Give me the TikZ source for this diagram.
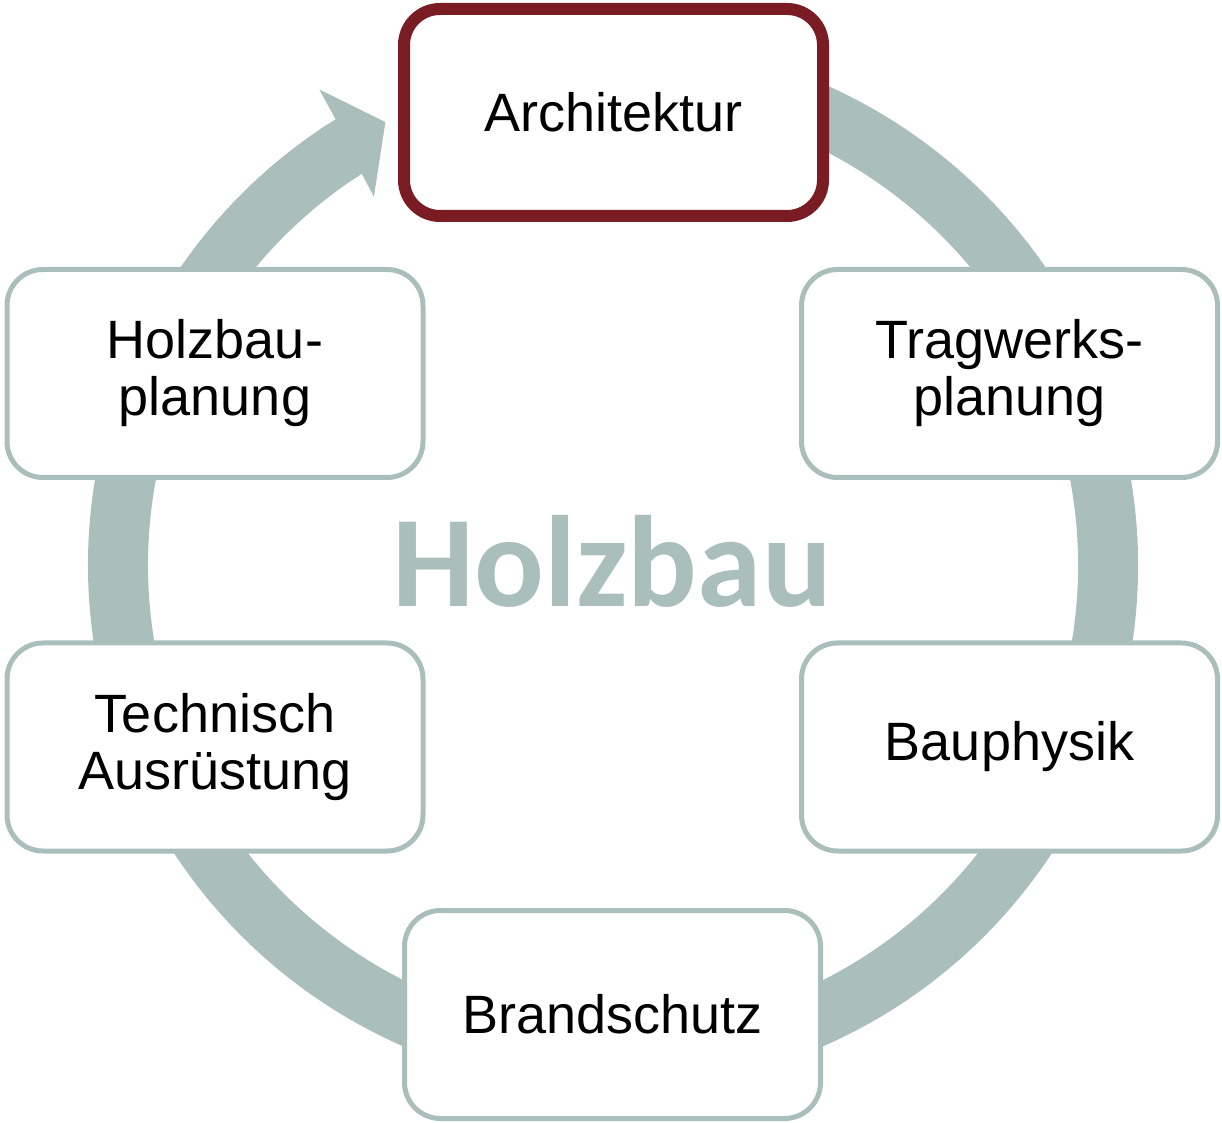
\documentclass[tikz,border=0pt]{standalone}
\usepackage{fontspec}
\setmainfont{Liberation Sans}
\newfontfamily\hubfont{Carlito}
\definecolor{ringgray}{HTML}{AABFBC}
\definecolor{archred}{HTML}{7A1C24}
\tikzset{
  topicbox/.style={draw=ringgray, line width=5pt, fill=white, rounded corners=36pt,
    minimum width=416pt, minimum height=208pt, align=center, inner sep=0pt,
    font=\fontsize{54}{57}\selectfont},
  leadbox/.style={topicbox, draw=archred, line width=12pt,
    minimum width=419pt, minimum height=207pt},
  cycle/.style={draw=ringgray, line width=60pt, line cap=butt},
}
\begin{document}
\begin{tikzpicture}[x=1pt, y=1pt]
  \useasboundingbox (0,0) rectangle (1222,1122);
  \coordinate (hub) at (613,557);

  % circular process ring ending in an arrowhead
  \begin{scope}[shift={(hub)}]
    \draw[cycle] (100:495) arc[start angle=100, end angle=-237, radius=495pt];
    \fill[ringgray] (124:525) -- (121.9:525) -- (121.7:559) -- (117.2:498)
      -- (123.0:439) -- (122.7:465) -- (124:465) -- cycle;
  \end{scope}

  % centre label
  \node[anchor=base, text=ringgray, inner sep=0pt,
        font=\hubfont\bfseries\fontsize{130}{130}\selectfont] (title) at (612,515) {Holzbau};

  % topic boxes
  \node[leadbox]  (arch)  at (613.5,1009.5) {Architektur};
  \node[topicbox] (trag)  at (1009.5,748.5) {Tragwerks-\\planung};
  \node[topicbox] (hplan) at (215,748.5)    {Holzbau-\\planung};
  \node[topicbox] (phys)  at (1009.5,375)   {Bauphysik};
  \node[topicbox] (tech)  at (215,375)      {Technisch\\Ausrüstung};
  \node[topicbox] (fire)  at (612.5,107.5)  {Brandschutz};
\end{tikzpicture}
\end{document}
